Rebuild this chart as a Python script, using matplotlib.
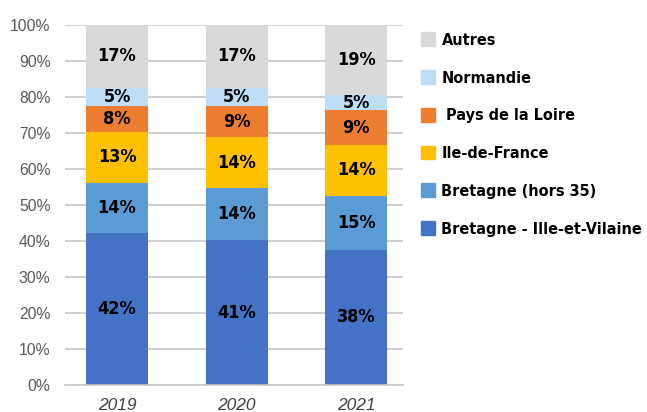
import matplotlib.pyplot as plt
from matplotlib.patches import Patch

years = ["2019", "2020", "2021"]
series = ["Bretagne - Ille-et-Vilaine", "Bretagne (hors 35)", "Ile-de-France",
          " Pays de la Loire", "Normandie", "Autres"]
colors = ["#4472C4", "#5B9BD5", "#FFC000", "#ED7D31", "#BDDEF5", "#D9D9D9"]

# shares (%)
ille_vilaine = [42.2, 40.2, 37.5]
bretagne_hors35 = [13.9, 14.5, 15.0]
ile_de_france = [14.2, 14.1, 14.1]
pays_loire = [7.2, 8.6, 9.7]
normandie = [5.0, 5.0, 4.1]
autres = [17.5, 17.6, 19.6]

# printed labels
lbl_ille_vilaine = [42, 41, 38]
lbl_bretagne_hors35 = [14, 14, 15]
lbl_ile_de_france = [13, 14, 14]
lbl_pays_loire = [8, 9, 9]
lbl_normandie = [5, 5, 5]
lbl_autres = [17, 17, 19]

values = [ille_vilaine, bretagne_hors35, ile_de_france, pays_loire, normandie, autres]
labels = [lbl_ille_vilaine, lbl_bretagne_hors35, lbl_ile_de_france,
          lbl_pays_loire, lbl_normandie, lbl_autres]

cond = dict(family='DejaVu Sans', stretch='condensed', weight='bold')

fig = plt.figure(figsize=(6.47, 4.12), dpi=100)
ax = fig.add_axes([65 / 647, 1 - 385 / 412, (403 - 65) / 647, (385 - 24.7) / 412])

x = list(range(len(years)))
bottom = [0.0] * len(years)
for vals, lbls, col in zip(values, labels, colors):
    ax.bar(x, vals, bottom=bottom, width=0.516, color=col, zorder=2)
    for i in x:
        ax.text(i, bottom[i] + vals[i] / 2, f"{lbls[i]}%", ha='center', va='center',
                fontsize=13, color='black', zorder=3, **cond)
    bottom = [b + v for b, v in zip(bottom, vals)]

ax.set_xlim(-0.435, 2.39)
ax.set_ylim(0, 100)
ax.set_yticks(range(0, 101, 10))
ax.set_yticklabels([f"{t}%" for t in range(0, 101, 10)], family='Liberation Sans',
                   fontsize=11.3, color='#595959')
ax.set_xticks(x)
ax.set_xticklabels(years, family='Liberation Sans', style='italic', fontsize=12.5,
                   color='#404040')
ax.grid(axis='y', color='#C8C8C8', linewidth=1.2, zorder=0)
ax.tick_params(axis='y', length=0, pad=10.5)
ax.tick_params(axis='x', length=0, pad=9)
for s in ['top', 'right', 'left']:
    ax.spines[s].set_visible(False)
ax.spines['bottom'].set_color('#C8C8C8')
ax.spines['bottom'].set_linewidth(1.2)

handles = [Patch(color=c) for c in colors][::-1]
fig.legend(handles, series[::-1], loc='upper left', bbox_to_anchor=(406 / 647, 1 - 18 / 412),
           frameon=False, handlelength=0.92, handleheight=0.92,
           handletextpad=0.38, labelspacing=1.39,
           prop={'family': 'DejaVu Sans', 'stretch': 'condensed', 'weight': 'bold', 'size': 11.6})

fig.savefig("out.png", dpi=100)
